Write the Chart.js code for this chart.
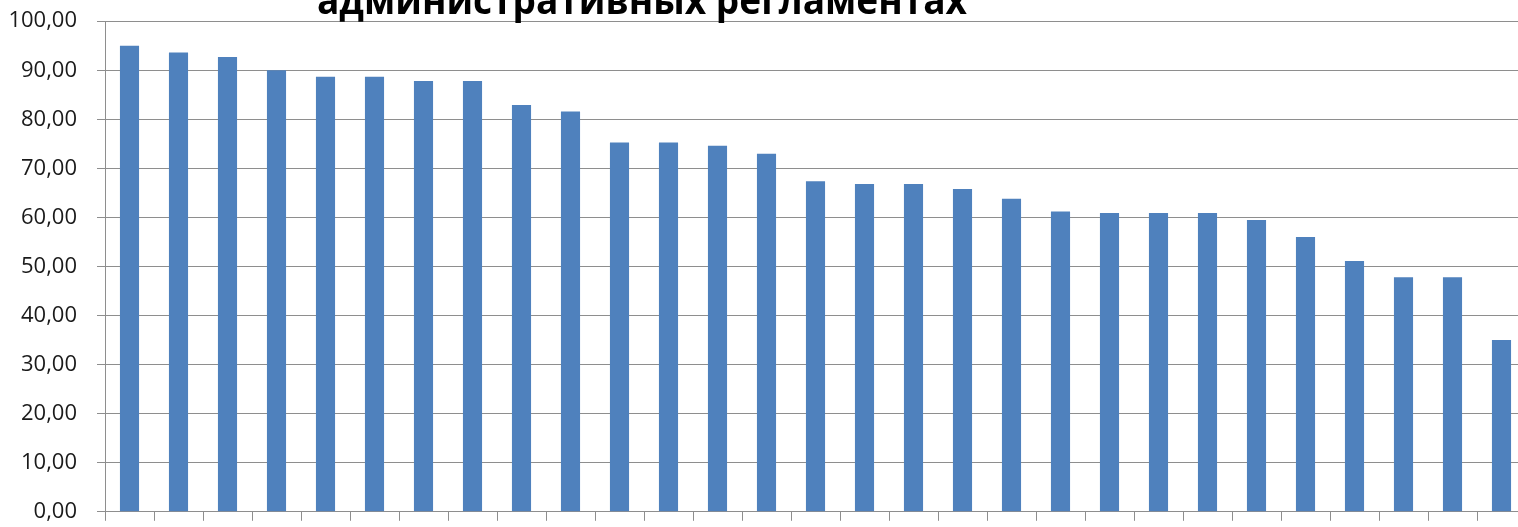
<!DOCTYPE html>
<html>
<head>
<meta charset="utf-8">
<script src="https://cdn.jsdelivr.net/npm/chart.js@4/dist/chart.umd.min.js"></script>
<style>
  html, body { margin: 0; padding: 0; background: #fff; overflow: hidden; }
  #wrap { position: relative; width: 1530px; height: 557px; margin-top: -12px; }
</style>
</head>
<body>
<div id="wrap"><canvas id="graph"></canvas></div>
<script>
// Данные диаграммы
const categories = ['1','2','3','4','5','6','7','8','9','10','11','12','13','14','15',
                    '16','17','18','19','20','21','22','23','24','25','26','27','28','29'];
const values = [95.0, 93.6, 92.7, 90.0, 88.7, 88.7, 87.8, 87.8, 82.9, 81.6,
                75.3, 75.3, 74.6, 73.0, 67.4, 66.8, 66.8, 65.8, 63.8, 61.2,
                60.9, 60.9, 60.9, 59.5, 56.0, 51.1, 47.8, 47.8, 35.0];
const yTicks = [0, 10, 20, 30, 40, 50, 60, 70, 80, 90, 100];
const titleText = 'административных регламентах';

const gridColor = '#8e8e8e';

// Заголовок (верх обрезан, как на картинке)
const titlePlugin = {
    id: 'cutTitle',
    afterDraw(chart) {
        const c = chart.ctx;
        c.save();
        c.font = 'bold 40px "Open Sans"';
        c.fillStyle = '#000';
        c.textAlign = 'left';
        c.textBaseline = 'alphabetic';
        const w = c.measureText(titleText).width;
        const target = 650;
        c.translate(317, 26); // canvas сдвинут вверх на 12px
        c.scale(target / w, 1);
        c.fillText(titleText, 0, 0);
        c.restore();
    }
};

new Chart(document.getElementById('graph'), {
    type: 'bar',
    data: {
        labels: categories,
        datasets: [{
            data: values,
            backgroundColor: '#4F81BD',
            borderWidth: 0,
            barPercentage: 0.39,
            categoryPercentage: 1.0
        }]
    },
    options: {
        responsive: true,
        maintainAspectRatio: false,
        animation: false,
        layout: { padding: { top: 9, right: 4, bottom: 0, left: 0 } },
        scales: {
            x: {
                offset: true,
                grid: {
                    offset: true,
                    drawOnChartArea: false,
                    drawTicks: true,
                    tickLength: 9,
                    color: gridColor
                },
                border: { color: gridColor },
                ticks: { display: false },
                afterFit(scale) { scale.height = 16; }
            },
            y: {
                min: 0,
                max: 100,
                afterBuildTicks(scale) {
                    scale.ticks = yTicks.map(v => ({ value: v }));
                },
                grid: {
                    color: gridColor,
                    tickLength: 8
                },
                border: { color: gridColor },
                ticks: {
                    padding: 20,
                    color: '#1a1a1a',
                    font: { family: '"Open Sans"', size: 22 },
                    callback: v => v.toFixed(2).replace('.', ',')
                },
                afterFit(scale) { scale.width = 105; }
            }
        },
        plugins: {
            legend: { display: false },
            title: { display: false },
            tooltip: { enabled: false }
        }
    },
    plugins: [titlePlugin]
});
</script>
</body>
</html>
